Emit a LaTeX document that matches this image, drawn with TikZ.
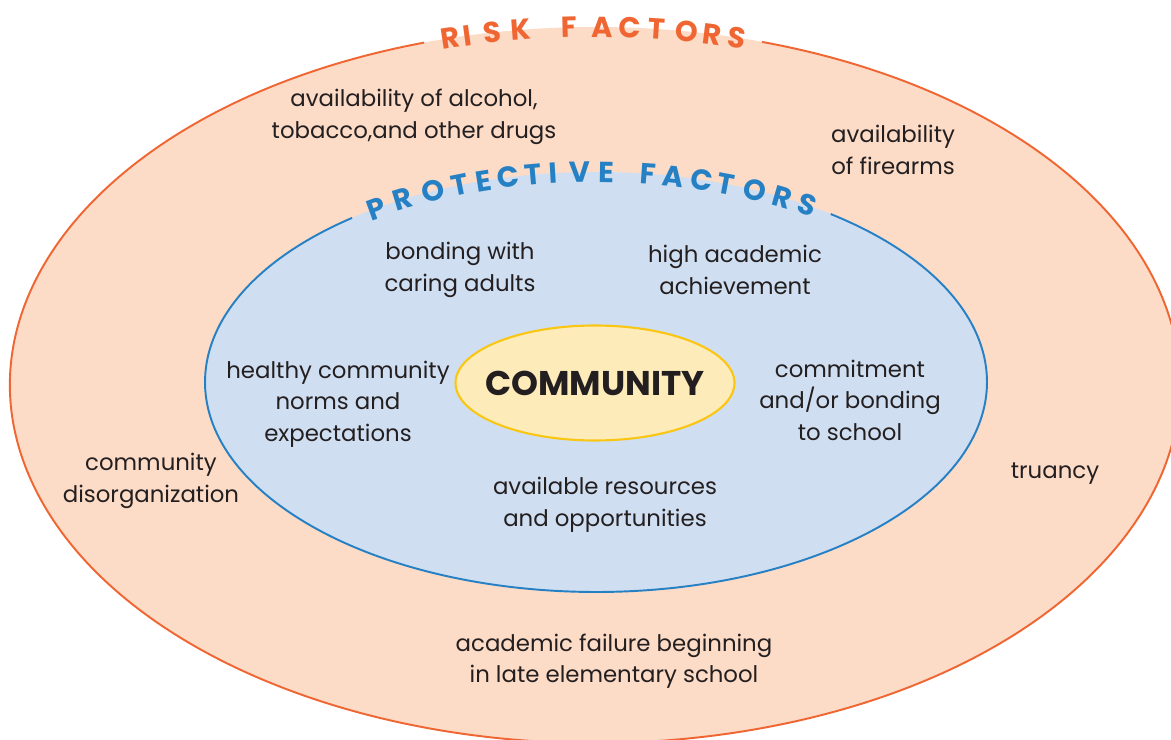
\documentclass[tikz,border=0pt]{standalone}
\usepackage{fontspec}
\setmainfont{Poppins}
\usetikzlibrary{shapes.geometric}
\definecolor{riskFill}{RGB}{252,219,199}
\definecolor{riskLine}{RGB}{240,102,50}
\definecolor{protFill}{RGB}{208,222,241}
\definecolor{protLine}{RGB}{38,128,196}
\definecolor{commFill}{RGB}{253,236,186}
\definecolor{commLine}{RGB}{250,198,20}
\definecolor{textColor}{RGB}{35,31,32}
\tikzstyle{diagram} = [x = .02cm, y = -.02cm]
\tikzstyle{factorText} = [align=center, text=textColor, inner sep=0pt, font=\fontsize{13}{17.9}\selectfont]
\tikzstyle{arcLetter} = [inner sep=0pt, anchor=center, font=\fontsize{16.5}{17}\selectfont\bfseries]
\tikzstyle{communityStyle} = [ellipse, draw=commLine, fill=commFill, line width=1.2pt, inner sep=0pt, minimum width=5.58cm, minimum height=2.3cm]
\tikzstyle{communityText} = [text=textColor, inner sep=0pt, font=\fontsize{19.5}{20}\selectfont\bfseries]
% letters along the top of an ellipse: cx, cy, a, b, colour, name, letter/x list
\newcommand{\ellipseLetters}[7]{
  \foreach \letter/\xpos [count=\i] in {#7} {
    \pgfmathsetmacro{\angle}{acos((\xpos - #1) / #3)}
    \pgfmathsetmacro{\ypos}{#2 - #4 * sin(\angle)}
    \pgfmathsetmacro{\tilt}{atan2(-#4 * cos(\angle), #3 * sin(\angle))}
    \node [arcLetter, text=#5, rotate=\tilt] (#6-\i) at (\xpos, \ypos) {\letter};
  }
}
\begin{document}
\begin{tikzpicture}[diagram]
  \useasboundingbox (0,0) rectangle (1171,740);
  \clip (0,0) rectangle (1171,740);
  % rings
  \fill [riskFill] (595,385) ellipse [x radius=585, y radius=358];
  \fill [protFill] (596,382) ellipse [x radius=391, y radius=210];
  \draw [riskLine, line width=1.1pt] (595,385) ++(-107:585 and 358)
    arc [start angle=-107, end angle=-433.4, x radius=585, y radius=358];
  \draw [protLine, line width=1.1pt] (596,382) ++(-128.6:391 and 210)
    arc [start angle=-128.6, end angle=-413.1, x radius=391, y radius=210];
  \ellipseLetters{595}{385}{585}{358}{riskLine}{risk}{R/450, I/467, S/492, K/521, F/569, A/602, C/630, T/657, O/687, R/712, S/737}
  \ellipseLetters{596}{382}{391}{210}{protLine}{prot}{P/376, R/403, O/433, T/460, E/484, C/508, T/533, I/553, V/580, E/606, F/648, A/673, C/702, T/726, O/755, R/782, S/807}
  \node [communityStyle] (community) at (595,383) {};
  \node [communityText] (communityLabel) at (community.center) {COMMUNITY};
  % risk factors
  \node [factorText] (drugs) at (414,117) {availability of alcohol,\\tobacco,and other drugs};
  \node [factorText] (firearms) at (893,150) {availability\\of firearms};
  \node [factorText] (disorganization) at (151,481) {community\\disorganization};
  \node [factorText] (truancy) at (1055,474) {truancy};
  \node [factorText] (failure) at (614,661) {academic failure beginning\\in late elementary school};
  % protective factors
  \node [factorText] (bonding) at (460,270) {bonding with\\caring adults};
  \node [factorText] (achievement) at (735,270) {high academic\\achievement};
  \node [factorText] (norms) at (338,404) {healthy community\\norms and\\expectations};
  \node [factorText] (school) at (850,400) {commitment\\and/or bonding\\to school};
  \node [factorText] (resources) at (605,505) {available resources\\and opportunities};
\end{tikzpicture}
\end{document}
